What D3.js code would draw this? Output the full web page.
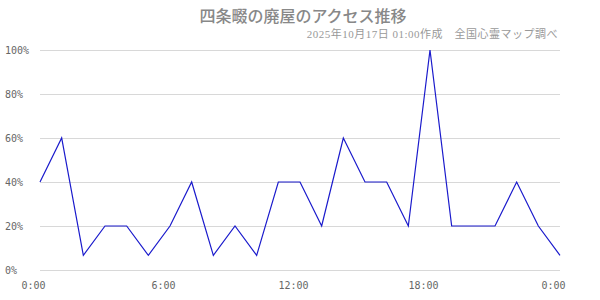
<!DOCTYPE html>
<html lang="ja">
<head>
    <meta charset="utf-8">
    <title>四条畷の廃屋のアクセス推移</title>
    <script src="https://cdn.jsdelivr.net/npm/d3@7"></script>
    <style>
        body { margin: 0; background: #fff; }
        #chart { width: 600px; height: 300px; }
    </style>
</head>
<body>
    <div id="chart"></div>
    <script>
        // hourly access share, 0:00 .. next day 0:00
        var hours = d3.range(0, 25);
        var access = [40, 60, 6.67, 20, 20, 6.67, 20, 40, 6.67, 20, 6.67, 40, 40, 20, 60, 40, 40, 20, 100, 20, 20, 20, 40, 20, 6.67];
        var yTicks = [0, 20, 40, 60, 80, 100];
        var xTicks = [0, 6, 12, 18, 24];
        var xTickLabels = ["0:00", "6:00", "12:00", "18:00", "0:00"];
        var title = "四条畷の廃屋のアクセス推移";
        var subtitle = "2025年10月17日 01:00作成　全国心霊マップ調べ";

        var width = 600, height = 300;
        var margin = { top: 50, right: 40, bottom: 30, left: 40 };

        var svg = d3.select("#chart").append("svg")
            .attr("width", width)
            .attr("height", height);

        var x = d3.scaleLinear()
            .domain([0, 24])
            .range([margin.left, width - margin.right]);

        var y = d3.scaleLinear()
            .domain([0, 100])
            .range([height - margin.bottom, margin.top]);

        // grid lines
        svg.append("g")
            .selectAll("line")
            .data(yTicks)
            .enter().append("line")
            .attr("x1", x(0))
            .attr("x2", x(24))
            .attr("y1", function(d) { return y(d) + 0.5; })
            .attr("y2", function(d) { return y(d) + 0.5; })
            .attr("stroke", "#d8d8d8")
            .attr("stroke-width", 1);

        // y labels
        svg.append("g")
            .selectAll("text")
            .data(yTicks)
            .enter().append("text")
            .attr("x", 5)
            .attr("y", function(d) { return y(d); })
            .attr("dy", "0.35em")
            .attr("fill", "#666")
            .style("font-family", "'DejaVu Sans Mono', monospace")
            .style("font-size", "10px")
            .text(function(d) { return d + "%"; });

        // x axis labels
        var xAxis = d3.axisBottom(x)
            .tickValues(xTicks)
            .tickSize(0)
            .tickFormat(function(d, i) { return xTickLabels[i]; });

        var gx = svg.append("g")
            .attr("transform", "translate(0," + (height - margin.bottom) + ")")
            .call(xAxis);
        gx.select(".domain").remove();
        gx.selectAll("text")
            .attr("y", 12)
            .attr("dx", "-7")
            .attr("fill", "#666")
            .style("font-family", "'DejaVu Sans Mono', monospace")
            .style("font-size", "10px");

        // the line
        var line = d3.line()
            .x(function(d, i) { return x(hours[i]); })
            .y(function(d) { return y(d); });

        svg.append("path")
            .datum(access)
            .attr("d", line)
            .attr("fill", "none")
            .attr("stroke", "#1a1acc")
            .attr("stroke-width", 1.2);

        // title
        svg.append("text")
            .attr("x", width / 2 + 3)
            .attr("y", 22)
            .attr("text-anchor", "middle")
            .attr("fill", "#888")
            .style("font-family", "'Noto Sans CJK JP', sans-serif")
            .style("font-weight", "500")
            .style("font-size", "16px")
            .text(title);

        svg.append("text")
            .attr("x", 558)
            .attr("y", 38)
            .attr("text-anchor", "end")
            .attr("fill", "#999")
            .style("font-family", "'Liberation Serif', 'Noto Sans CJK JP', serif")
            .style("font-size", "11px")
            .style("letter-spacing", "0.5px")
            .text(subtitle);
    </script>
</body>
</html>
